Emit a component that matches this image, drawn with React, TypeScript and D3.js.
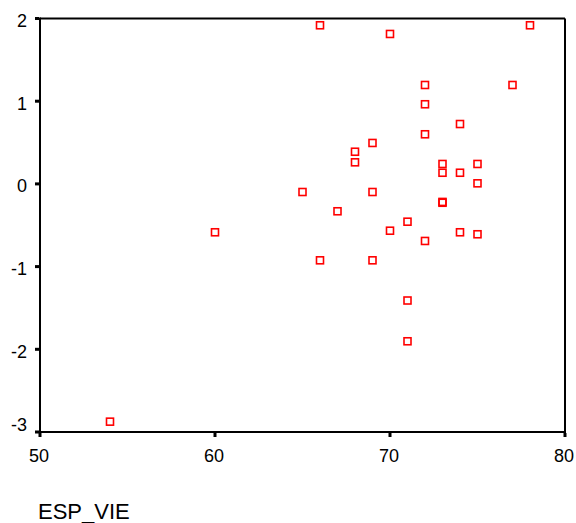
import React from "react";
import * as d3 from "d3";

const espVie = [66, 70, 78, 77, 72, 72, 74, 72, 69, 68, 68, 73, 75, 73, 74, 75, 65, 69, 73, 73, 67, 71, 70, 74, 75, 60, 72, 66, 69, 71, 71, 54];
const resid = [1.918, 1.813, 1.918, 1.196, 1.196, 0.963, 0.724, 0.6, 0.495, 0.389, 0.261, 0.241, 0.241, 0.135, 0.135, 0.007, -0.098, -0.098, -0.218, -0.228, -0.331, -0.457, -0.566, -0.585, -0.609, -0.585, -0.69, -0.924, -0.924, -1.41, -1.903, -2.875];
const xTicks = [50, 60, 70, 80];
const yTicks = [2, 1, 0, -1, -2, -3];
const xLabel = "ESP_VIE";

export default function App() {
  const W = 576, H = 523;
  const left = 40, right = 565, top = 18.5, bottom = 432;
  const x = d3.scaleLinear().domain([50, 80]).range([left, right]);
  const y = d3.scaleLinear().domain([-3, 2]).range([bottom, top]);
  const font = "Arial, 'Liberation Sans', sans-serif";
  return (
    <svg width={W} height={H} style={{ position: "absolute", left: 0, top: 0, background: "#fff" }}>
      <rect x={0} y={0} width={W} height={H} fill="#fff" />
      {/* frame */}
      <line x1={left} y1={top} x2={right} y2={top} stroke="#000" strokeWidth={2} />
      <line x1={right} y1={top} x2={right} y2={bottom} stroke="#000" strokeWidth={2} />
      <line x1={left} y1={top - 1} x2={left} y2={bottom + 1} stroke="#000" strokeWidth={2} />
      <line x1={left - 1} y1={bottom} x2={right + 1} y2={bottom} stroke="#000" strokeWidth={2} />
      {yTicks.map((t) => (
        <g key={"y" + t}>
          <rect x={left - 5} y={y(t) - 1.5} width={4} height={3} fill="#000" />
          <text
            x={27}
            y={Math.min(Math.max(y(t) + 2.5, 20.5), 425)}
            dominantBaseline="central"
            textAnchor="end"
            fontFamily={font}
            fontSize={18}
            fill="#000"
          >
            {t}
          </text>
        </g>
      ))}
      {xTicks.map((t) => (
        <g key={"x" + t}>
          <rect x={x(t) - 1.5} y={bottom + 1} width={3} height={4} fill="#000" />
          <text x={x(t) - 1} y={462} textAnchor="middle" fontFamily={font} fontSize={18} fill="#000">
            {t}
          </text>
        </g>
      ))}
      {espVie.map((v, i) => (
        <rect
          key={"p" + i}
          x={x(v) - 3.5}
          y={y(resid[i]) - 3.5}
          width={7}
          height={7}
          fill="none"
          stroke="#ff0000"
          strokeWidth={1.6}
        />
      ))}
      <text x={38} y={519} fontFamily={font} fontSize={22} fill="#000">
        {xLabel}
      </text>
    </svg>
  );
}
